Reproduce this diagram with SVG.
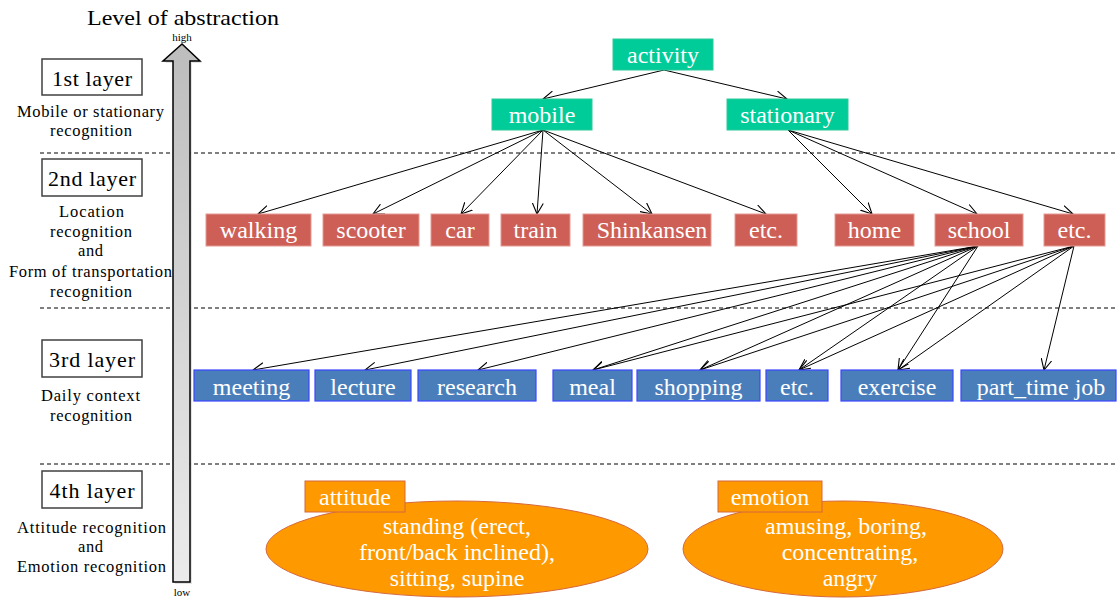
<svg xmlns="http://www.w3.org/2000/svg" width="1118" height="599" viewBox="0 0 1118 599">
<style>
text{font-family:"Liberation Serif","Times New Roman",serif;}
.lbl{font-size:16.5px;fill:#000;text-anchor:middle;}
.lay{font-size:22px;fill:#000;text-anchor:middle;}
.layb{fill:#fff;stroke:#404040;stroke-width:1.5;}
.nt{font-size:24px;fill:#fff;text-anchor:middle;}
.g{fill:#00cc99;stroke:#2fc99a;stroke-width:1;}
.r{fill:#cd5f57;stroke:#e59a93;stroke-width:1;}
.b{fill:#4a7ebb;stroke:#3b46ff;stroke-width:1.2;}
.o{fill:#ff9900;stroke:#d4693e;stroke-width:1;}
.et{font-size:24px;fill:#fff;text-anchor:middle;}
.dash{stroke:#000;stroke-width:1;stroke-dasharray:4 3;fill:none;}
.c{stroke:#000;stroke-width:1;fill:none;marker-end:url(#ah);}
</style>
<defs>
<marker id="ah" markerUnits="userSpaceOnUse" markerWidth="14" markerHeight="12" refX="11" refY="6" orient="auto" viewBox="0 0 14 12">
<path d="M0,0.5 L11,6 L0,11.5" fill="none" stroke="#000" stroke-width="1.1"/>
</marker>
<linearGradient id="ag" x1="0" y1="0" x2="0" y2="1">
<stop offset="0" stop-color="#bdbdbd"/>
<stop offset="1" stop-color="#ebebeb"/>
</linearGradient>
</defs>
<rect width="1118" height="599" fill="#fff"/>

<g id="dividers">
<line class="dash" x1="40" y1="153" x2="1118" y2="153"/>
<line class="dash" x1="40" y1="308" x2="1118" y2="308"/>
<line class="dash" x1="40" y1="464" x2="1118" y2="464"/>
</g>

<g id="title">
<text x="183" y="25" font-size="21" textLength="192" lengthAdjust="spacingAndGlyphs" text-anchor="middle">Level of abstraction</text>
</g>

<g id="layer1">
<rect class="layb" x="42" y="59" width="100" height="36"/>
<text class="lay" x="92" y="86" textLength="80">1st layer</text>
<text class="lbl" x="90.5" y="117" textLength="147">Mobile or stationary</text>
<text class="lbl" x="91" y="136" textLength="82">recognition</text>
</g>
<g id="layer2">
<rect class="layb" x="42" y="159" width="100" height="37"/>
<text class="lay" x="92" y="186" textLength="88">2nd layer</text>
<text class="lbl" x="91.5" y="217" textLength="65">Location</text>
<text class="lbl" x="91" y="237" textLength="82">recognition</text>
<text class="lbl" x="90.5" y="256" textLength="25">and</text>
<text class="lbl" x="90.5" y="277" textLength="163">Form of transportation</text>
<text class="lbl" x="91" y="297" textLength="82">recognition</text>
</g>
<g id="layer3">
<rect class="layb" x="42" y="340" width="100" height="37"/>
<text class="lay" x="92" y="367" textLength="86">3rd layer</text>
<text class="lbl" x="90.5" y="401" textLength="99">Daily context</text>
<text class="lbl" x="91" y="421" textLength="82">recognition</text>
</g>
<g id="layer4">
<rect class="layb" x="42" y="471" width="100" height="37"/>
<text class="lay" x="92" y="498" textLength="85">4th layer</text>
<text class="lbl" x="91.5" y="533" textLength="149">Attitude recognition</text>
<text class="lbl" x="90.5" y="552" textLength="25">and</text>
<text class="lbl" x="91.5" y="572" textLength="149">Emotion recognition</text>
</g>

<g id="abstraction-arrow">
<polygon points="175,584 175,63 165,63 184,46 202,63 192,63 192,584" fill="#d0d0d0" opacity="0.6"/>
<polygon points="173,582 173,61 163,61 182,44 200,61 190,61 190,582" fill="url(#ag)" stroke="#000" stroke-width="1.5" stroke-linejoin="miter"/>
<text x="182" y="41" font-size="11" text-anchor="middle">high</text>
<text x="182" y="596" font-size="11" text-anchor="middle">low</text>
</g>

<g id="connectors">
<line class="c" x1="664" y1="70" x2="543" y2="99"/>
<line class="c" x1="664" y1="70" x2="787" y2="99"/>
<line class="c" x1="543" y1="130" x2="258" y2="214"/>
<line class="c" x1="543" y1="130" x2="373" y2="214"/>
<line class="c" x1="543" y1="130" x2="461" y2="214"/>
<line class="c" x1="543" y1="130" x2="537" y2="214"/>
<line class="c" x1="543" y1="130" x2="652" y2="214"/>
<line class="c" x1="543" y1="130" x2="766" y2="214"/>
<line class="c" x1="788" y1="130" x2="872" y2="214"/>
<line class="c" x1="788" y1="130" x2="977" y2="214"/>
<line class="c" x1="788" y1="130" x2="1073" y2="214"/>
<line class="c" x1="978" y1="246" x2="253" y2="370"/>
<line class="c" x1="978" y1="246" x2="365" y2="370"/>
<line class="c" x1="978" y1="246" x2="478" y2="370"/>
<line class="c" x1="978" y1="246" x2="593" y2="370"/>
<line class="c" x1="978" y1="246" x2="700" y2="370"/>
<line class="c" x1="978" y1="246" x2="799" y2="370"/>
<line class="c" x1="978" y1="246" x2="898" y2="370"/>
<line class="c" x1="1074" y1="246" x2="593" y2="370"/>
<line class="c" x1="1074" y1="246" x2="700" y2="370"/>
<line class="c" x1="1074" y1="246" x2="799" y2="370"/>
<line class="c" x1="1074" y1="246" x2="898" y2="370"/>
<line class="c" x1="1074" y1="246" x2="1044" y2="370"/>
</g>

<g id="activity"><rect class="g" x="613" y="39" width="100" height="31"/><text class="nt" x="663" y="63">activity</text></g>
<g id="mobile"><rect class="g" x="492" y="99" width="100" height="31"/><text class="nt" x="542" y="123">mobile</text></g>
<g id="stationary"><rect class="g" x="727" y="99" width="121" height="31"/><text class="nt" x="787.5" y="123">stationary</text></g>

<g id="walking"><rect class="r" x="206" y="214" width="105" height="32"/><text class="nt" x="258.5" y="238">walking</text></g>
<g id="scooter"><rect class="r" x="323" y="214" width="96" height="32"/><text class="nt" x="371" y="238">scooter</text></g>
<g id="car"><rect class="r" x="431" y="214" width="58" height="32"/><text class="nt" x="460" y="238">car</text></g>
<g id="train"><rect class="r" x="501" y="214" width="69" height="32"/><text class="nt" x="535.5" y="238">train</text></g>
<g id="shinkansen"><rect class="r" x="583" y="214" width="128" height="32"/><text class="nt" x="652" y="238">Shinkansen</text></g>
<g id="etc-transport"><rect class="r" x="735" y="214" width="62" height="32"/><text class="nt" x="766" y="238">etc.</text></g>
<g id="home"><rect class="r" x="835" y="214" width="79" height="32"/><text class="nt" x="874.5" y="238">home</text></g>
<g id="school"><rect class="r" x="935" y="214" width="88" height="32"/><text class="nt" x="979" y="238">school</text></g>
<g id="etc-location"><rect class="r" x="1044" y="214" width="61" height="32"/><text class="nt" x="1074.5" y="238">etc.</text></g>

<g id="meeting"><rect class="b" x="194" y="370" width="115" height="31"/><text class="nt" x="251.5" y="395">meeting</text></g>
<g id="lecture"><rect class="b" x="315" y="370" width="96" height="31"/><text class="nt" x="363" y="395">lecture</text></g>
<g id="research"><rect class="b" x="418" y="370" width="118" height="31"/><text class="nt" x="477" y="395">research</text></g>
<g id="meal"><rect class="b" x="553" y="370" width="79" height="31"/><text class="nt" x="592.5" y="395">meal</text></g>
<g id="shopping"><rect class="b" x="637" y="370" width="123" height="31"/><text class="nt" x="698.5" y="395">shopping</text></g>
<g id="etc-context"><rect class="b" x="766" y="370" width="62" height="31"/><text class="nt" x="797" y="395">etc.</text></g>
<g id="exercise"><rect class="b" x="841" y="370" width="112" height="31"/><text class="nt" x="897" y="395">exercise</text></g>
<g id="part-time-job"><rect class="b" x="961" y="370" width="155" height="31"/><text class="nt" x="1041" y="395">part_time job</text></g>

<g id="attitude">
<ellipse class="o" cx="457" cy="549" rx="191" ry="48"/>
<rect class="o" x="305" y="481" width="100" height="31"/>
<text class="et" x="355" y="505">attitude</text>
<text class="et" x="457" y="534">standing (erect,</text>
<text class="et" x="457" y="560">front/back inclined),</text>
<text class="et" x="457" y="586">sitting, supine</text>
</g>
<g id="emotion">
<ellipse class="o" cx="843" cy="549" rx="160" ry="48"/>
<rect class="o" x="718" y="481" width="104" height="31"/>
<text class="et" x="770" y="505">emotion</text>
<text class="et" x="846" y="534">amusing, boring,</text>
<text class="et" x="850" y="560">concentrating,</text>
<text class="et" x="850" y="586">angry</text>
</g>
</svg>
